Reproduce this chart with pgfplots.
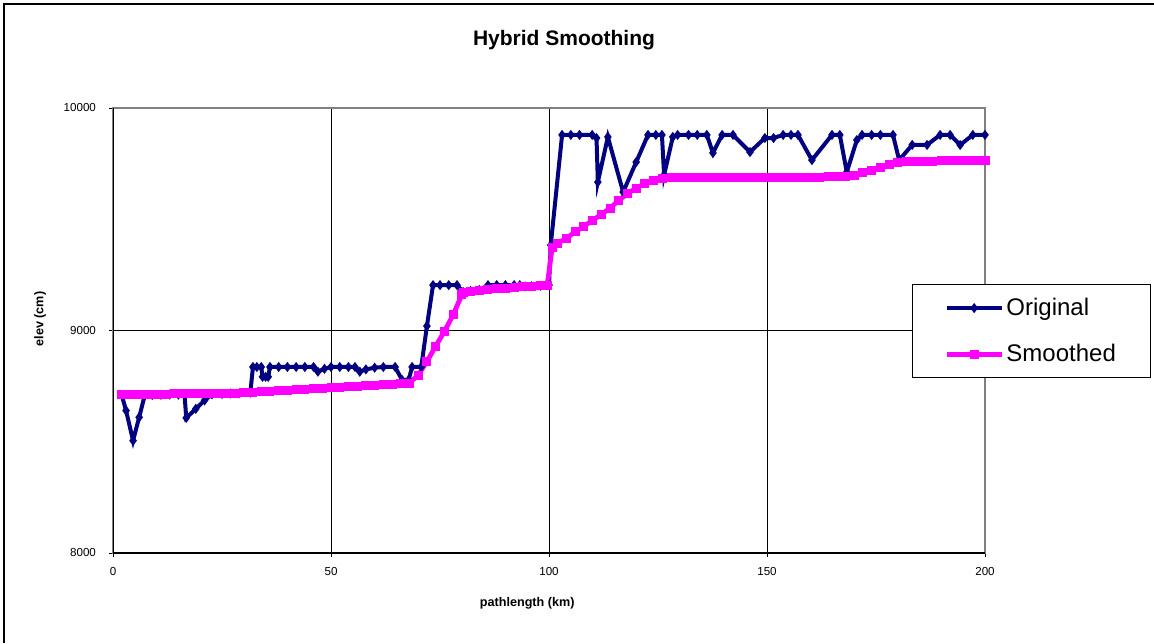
\documentclass[border=0pt]{standalone}
\usepackage{pgfplots}
\pgfplotsset{compat=1.18}
\usepackage{fontspec}
\setmainfont{Liberation Sans}
\definecolor{navyline}{HTML}{000080}
\definecolor{magline}{HTML}{FF00FF}
\begin{document}
\begin{tikzpicture}[x=0.5pt,y=0.5pt]
\useasboundingbox (0,0) rectangle (1154,643);
\draw[black,line width=0.9pt] (4,0) -- (4,639) -- (1154,639);
\begin{axis}[
  at={(56.5pt,45pt)}, anchor=south west,
  scale only axis, width=436pt, height=222.5pt,
  xmin=0, xmax=200, ymin=8000, ymax=10000,
  xtick={0,50,100,150,200}, ytick={8000,9000,10000},
  scaled ticks=false,
  tick pos=left, tick align=center, major tick length=4pt,
  tick style={black, line width=0.5pt},
  grid=major, major grid style={black, line width=0.5pt},
  axis line style={draw=gray, line width=1pt},
  /pgf/number format/assume math mode=true,
  /pgf/number format/1000 sep={},
  ticklabel style={font=\fontsize{5.8}{7}\selectfont},
  yticklabel style={xshift=-3pt},
  xticklabel style={yshift=-1.5pt},
  title={\textbf{Hybrid Smoothing}},
  title style={at={(axis description cs:0.5172,1.126)}, anchor=center, font=\fontsize{10.5}{12}\selectfont},
  xlabel={\textbf{pathlength (km)}},
  xlabel style={at={(axis description cs:0.475,-0.1124)}, anchor=center, font=\fontsize{6.3}{8}\selectfont},
  ylabel={\textbf{elev (cm)}},
  ylabel style={at={(axis description cs:-0.0837,0.526)}, anchor=center, rotate=0, font=\fontsize{6.3}{8}\selectfont},
  legend style={at={(axis description cs:0.916,0.6045)}, anchor=north west, draw=black, line width=0.5pt, fill=white,
    font=\fontsize{12}{14}\selectfont, inner xsep=16pt, inner ysep=5.5pt,
    row sep=10.5pt, nodes={inner sep=1.2pt}},
  legend cell align=left,
  legend image code/.code={\draw[#1, mark repeat=2, mark phase=2] plot coordinates {(0pt,0pt) (13.75pt,0pt) (27.5pt,0pt)};},
]
\addplot[navyline, line width=2pt, mark=diamond*, mark size=0.9pt, mark options={solid}] coordinates {
(2,8710) (3,8640) (4.6,8505) (6,8610) (7.3,8710) (9,8710) (11,8711) (13,8712) (15,8712) (16.4,8713)
(16.8,8607) (19,8648) (21,8686) (22.7,8713) (25,8715) (27,8717) (29,8718) (31.5,8721) (32.1,8836) (33,8836)
(34,8836) (34.3,8792) (35,8792) (35.6,8792) (36,8836) (38,8836) (40,8836) (42,8836) (44,8836) (46,8836)
(47,8815) (48.5,8828) (50,8836) (52,8836) (54,8836) (55.5,8836) (56.6,8815) (58,8825) (60,8833) (62,8836)
(64.7,8836) (66.3,8778) (67.8,8778) (68.6,8836) (70.7,8836) (72,9020) (73.4,9204) (75,9204) (77,9204) (78.9,9204)
(80.3,9173) (82,9178) (84,9182) (86,9204) (88,9204) (90,9204) (92,9204) (93.3,9204) (94.5,9198) (96,9199)
(98,9201) (100,9204) (100.4,9384) (103,9879) (105,9879) (107,9879) (109.9,9879) (110.9,9865) (111.2,9667) (113.5,9870)
(117,9622) (120,9757) (122.7,9879) (124.5,9879) (125.9,9879) (126.4,9699) (128.4,9870) (129.5,9879) (132,9879) (134,9879)
(136.2,9879) (137.6,9798) (139.7,9879) (142.2,9879) (146.1,9802) (149.5,9865) (151.5,9865) (153.7,9879) (155.5,9879) (157.1,9879)
(160.3,9766) (164.9,9879) (166.7,9879) (168.3,9712) (170.6,9856) (171.8,9879) (174,9879) (176,9879) (178.9,9879) (180.3,9766)
(183.3,9834) (186.7,9834) (189.7,9879) (192,9879) (194.3,9834) (197.2,9879) (200,9879)
};
\addlegendentry{Original}
\addplot[magline, line width=2.4pt, mark=square*, mark size=1.05pt, mark options={solid}] coordinates {
(2,8712) (4,8712) (6,8713) (8,8713) (10,8714) (12,8714) (14,8715) (16,8715) (18,8716) (20,8716)
(22,8717) (24,8718) (26,8718) (28,8719) (30,8720) (32,8722) (34,8724) (36,8727) (38,8729) (40,8731)
(42,8733) (44,8736) (46,8738) (48,8741) (50,8743) (52,8745) (54,8747) (56,8749) (58,8751) (60,8753)
(62,8756) (64,8758) (66,8761) (68,8764) (70,8800) (72,8860) (74,8930) (76,8995) (78,9070) (80,9160)
(80.5,9170) (82,9175) (84,9180) (86,9184) (88,9187) (90,9190) (92,9193) (94,9196) (96,9199) (98,9201)
(99.6,9204) (100.7,9371) (102,9392) (104,9415) (106,9443) (108,9468) (110,9495) (112,9522) (114,9550) (116,9585)
(118,9615) (120,9640) (122,9660) (124,9675) (126,9685) (128,9686) (130,9686) (132,9686) (134,9686) (136,9687)
(138,9687) (140,9687) (142,9687) (144,9687) (146,9688) (148,9688) (150,9688) (152,9688) (154,9689) (156,9689)
(158,9689) (160,9689) (162,9689) (164,9690) (166,9690) (168,9690) (170,9697) (172,9708) (174,9720) (176,9733)
(178,9746) (180,9756) (182,9758) (184,9759) (186,9760) (188,9761) (190,9762) (192,9763) (194,9763) (196,9764)
(198,9764) (200,9765)
};
\addlegendentry{Smoothed}
\draw[black, line width=1pt] (rel axis cs:0,1) -- (rel axis cs:0,0) -- (rel axis cs:1,0);
\end{axis}
\end{tikzpicture}
\end{document}
